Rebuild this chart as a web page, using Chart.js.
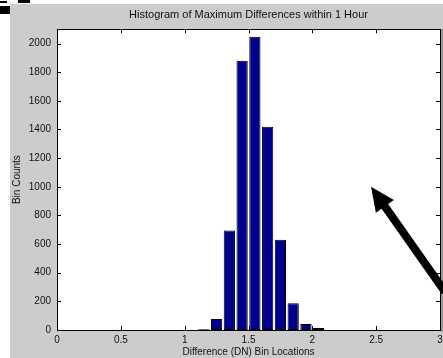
<!DOCTYPE html>
<html>
<head>
<meta charset="utf-8">
<script src="https://cdn.jsdelivr.net/npm/chart.js@4.4.1/dist/chart.umd.min.js"></script>
<style>
  html, body { margin: 0; padding: 0; background: #fff; }
  #wrap { position: relative; width: 443px; height: 358px; }
  .frag { position: absolute; background: #000; }
</style>
</head>
<body>
<div id="wrap">
  <canvas id="histChart" width="443" height="358"></canvas>
  <div class="frag" style="left:0;top:1px;width:7px;height:2px;"></div>
  <div class="frag" style="left:18px;top:0;width:12px;height:3px;"></div>
  <div class="frag" style="left:0;top:6px;width:10px;height:8px;"></div>
</div>
<script>
// histogram bins (centres) and their counts
const binCenters = [1.15, 1.25, 1.35, 1.45, 1.55, 1.65, 1.75, 1.85, 1.95, 2.05];
const binCounts  = [5, 77, 695, 1879, 2047, 1419, 630, 187, 42, 14];

const xTicks = [0, 0.5, 1, 1.5, 2, 2.5, 3];
const yTicks = [0, 200, 400, 600, 800, 1000, 1200, 1400, 1600, 1800, 2000];

// arrow annotation, in data units: from tail to head
const arrowFrom = { x: 3.04, y: 265 };
const arrowTo   = { x: 2.46, y: 1000 };

const FONT = '"Liberation Sans", Arial, Helvetica, sans-serif';

const figurePlugin = {
    id: 'figure',
    beforeDraw(chart) {
        const ctx = chart.ctx;
        const a = chart.chartArea;
        ctx.save();
        ctx.fillStyle = '#cccccc';
        ctx.fillRect(10, 4, chart.width - 10, chart.height - 4);
        ctx.fillStyle = '#ffffff';
        ctx.fillRect(a.left, a.top, a.right - a.left, a.bottom - a.top);
        ctx.restore();
    },
    afterDraw(chart) {
        const ctx = chart.ctx;
        const a = chart.chartArea;
        const xs = chart.scales.x, ys = chart.scales.y;
        const tl = 4;
        ctx.save();
        ctx.strokeStyle = '#000';
        ctx.lineWidth = 1;
        ctx.beginPath();
        // inward ticks on all four sides
        xTicks.forEach(v => {
            const px = Math.round(xs.getPixelForValue(v)) + 0.5;
            ctx.moveTo(px, a.bottom); ctx.lineTo(px, a.bottom - tl);
            ctx.moveTo(px, a.top); ctx.lineTo(px, a.top + tl);
        });
        yTicks.forEach(v => {
            const py = Math.round(ys.getPixelForValue(v)) + 0.5;
            ctx.moveTo(a.left, py); ctx.lineTo(a.left + tl, py);
            ctx.moveTo(a.right, py); ctx.lineTo(a.right - tl, py);
        });
        ctx.stroke();
        ctx.strokeRect(Math.round(a.left) + 0.5, Math.round(a.top) + 0.5,
                       Math.round(a.right - a.left), Math.round(a.bottom - a.top));
        ctx.fillStyle = '#999';
        ctx.fillRect(Math.round(a.right) + 1, a.top, 2, a.bottom - a.top + 2);

        // arrow
        const x0 = xs.getPixelForValue(arrowFrom.x), y0 = ys.getPixelForValue(arrowFrom.y);
        const x1 = xs.getPixelForValue(arrowTo.x),   y1 = ys.getPixelForValue(arrowTo.y);
        const ang = Math.atan2(y1 - y0, x1 - x0);
        const headLen = 24, headHalf = 11;
        const bx = x1 - headLen * Math.cos(ang), by = y1 - headLen * Math.sin(ang);
        ctx.strokeStyle = '#000';
        ctx.lineWidth = 8;
        ctx.beginPath();
        ctx.moveTo(x0, y0);
        ctx.lineTo(bx + 4 * Math.cos(ang), by + 4 * Math.sin(ang));
        ctx.stroke();
        ctx.fillStyle = '#000';
        ctx.beginPath();
        ctx.moveTo(x1, y1);
        ctx.lineTo(bx + headHalf * Math.sin(ang), by - headHalf * Math.cos(ang));
        ctx.lineTo(bx - headHalf * Math.sin(ang), by + headHalf * Math.cos(ang));
        ctx.closePath();
        ctx.fill();
        ctx.restore();
    }
};

new Chart(document.getElementById('histChart'), {
    type: 'bar',
    data: {
        datasets: [{
            data: binCenters.map((c, i) => ({ x: c, y: binCounts[i] })),
            backgroundColor: '#00008f',
            borderColor: '#000000',
            borderWidth: 1,
            borderSkipped: false,
            barPercentage: 0.88,
            categoryPercentage: 1.0
        }]
    },
    options: {
        responsive: false,
        animation: false,
        layout: { padding: { left: 0, right: 3, top: 0, bottom: 0 } },
        plugins: {
            legend: { display: false },
            tooltip: { enabled: false },
            title: {
                display: true,
                text: 'Histogram of Maximum Differences within 1 Hour',
                fullSize: false,
                color: '#111',
                font: { family: FONT, size: 11, weight: 'normal' },
                padding: { top: 8, bottom: 8 }
            }
        },
        scales: {
            x: {
                type: 'linear',
                min: 0,
                max: 3,
                offset: false,
                afterBuildTicks: s => { s.ticks = xTicks.map(v => ({ value: v })); },
                afterFit: s => { s.height = 28; s.paddingLeft = 0; s.paddingRight = 0; },
                grid: { display: false, drawTicks: false },
                border: { display: false },
                ticks: {
                    padding: 4,
                    color: '#111',
                    maxRotation: 0,
                    autoSkip: false,
                    font: { family: FONT, size: 10 },
                    callback: v => String(v)
                },
                title: {
                    display: true,
                    text: 'Difference (DN) Bin Locations',
                    color: '#111',
                    font: { family: FONT, size: 10 },
                    padding: { top: 0, bottom: 0 }
                }
            },
            y: {
                min: 0,
                max: 2100,
                afterBuildTicks: s => { s.ticks = yTicks.map(v => ({ value: v })); },
                afterFit: s => { s.width = 57; s.paddingTop = 0; s.paddingBottom = 0; },
                grid: { display: false, drawTicks: false },
                border: { display: false },
                ticks: {
                    padding: 6,
                    color: '#111',
                    autoSkip: false,
                    font: { family: FONT, size: 10 },
                    callback: v => String(v)
                },
                title: {
                    display: true,
                    text: 'Bin Counts',
                    color: '#111',
                    font: { family: FONT, size: 10 },
                    padding: { top: 11, bottom: 0 }
                }
            }
        }
    },
    plugins: [figurePlugin]
});
</script>
</body>
</html>
